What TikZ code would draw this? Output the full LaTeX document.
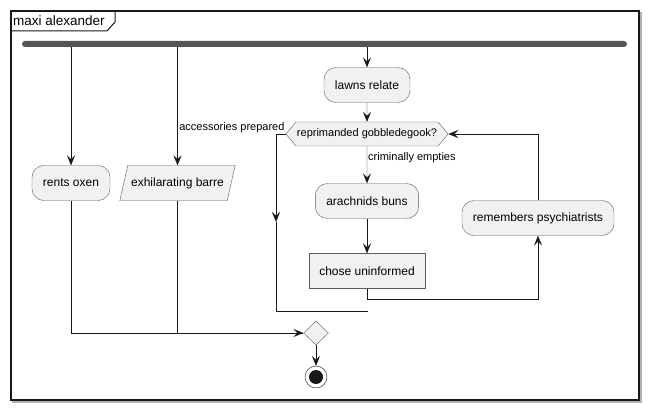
\documentclass[tikz,border=0pt]{standalone}
\usepackage{fontspec}
\setmainfont{Liberation Sans}
\usetikzlibrary{arrows.meta,shapes.geometric,shapes.symbols}

\definecolor{boxfill}{HTML}{F1F1F1}
\definecolor{boxline}{HTML}{5E5E5E}
\definecolor{barcol}{HTML}{555555}
\definecolor{ink}{HTML}{181818}

\tikzset{
  act/.style={draw=boxline, fill=boxfill, rounded corners=12pt, minimum height=35pt, inner xsep=11pt, font=\fontsize{12}{14}\selectfont},
  plain/.style={draw=boxline, fill=boxfill, minimum height=35pt, inner xsep=10pt, font=\fontsize{12}{14}\selectfont},
  flow/.style={draw=ink, -{Stealth[length=10pt,width=8pt,inset=4pt]}},
  wire/.style={draw=ink},
  lbl/.style={font=\fontsize{11}{13}\selectfont, inner sep=1pt}
}

\begin{document}
\begin{tikzpicture}[x=1pt, y=-1pt]
\useasboundingbox (0,0) rectangle (648,409);

% frame
\draw[gray!60, line width=1.5pt] (13,13) rectangle (641,402);
\draw[ink, line width=1.3pt, fill=white] (11,11) rectangle (639,400);
\draw[ink, line width=1pt] (11,31) -- (107,31) -- (115,22) -- (115,11);
\node[anchor=base west, inner sep=0pt, font=\fontsize{13.5}{15}\selectfont] (title) at (13,26) {maxi alexander};

% fork bar
\node[fill=barcol, rounded corners=3pt, minimum width=605pt, minimum height=6pt, inner sep=0pt] at (324.5,44) (fork) {};

\node[act] at (71,183) (oxen) {rents oxen};
\node[minimum width=115pt, minimum height=35pt, font=\fontsize{12}{14}\selectfont] at (177.5,183) (barre) {};
\filldraw[draw=boxline, fill=boxfill] (barre.south west) -- ([xshift=8pt]barre.north west) -- (barre.north east) -- ([xshift=-8pt]barre.south east) -- cycle;
\node[font=\fontsize{12}{14}\selectfont] at (barre) {exhilarating barre};
\node[act] at (367,85) (lawns) {lawns relate};
\node[signal, signal to=west and east, signal pointer angle=100, draw=boxline, fill=boxfill, minimum height=24pt, inner xsep=1pt, inner ysep=2pt, font=\fontsize{11}{13}\selectfont] at (367,134) (cond) {reprimanded gobbledegook?};
\node[act] at (367,201) (buns) {arachnids buns};
\node[plain] at (367,271) (chose) {chose uninformed};
\node[act] at (538,218) (psych) {remembers psychiatrists};
\node[diamond, draw=boxline, fill=boxfill, minimum width=25pt, minimum height=24pt, inner sep=0pt] at (316,333) (merge) {};
\node[circle, draw=ink, minimum size=22pt, inner sep=0pt] at (316,377) (stop) {};
\node[circle, fill=ink, minimum size=14pt, inner sep=0pt] at (stop) (stopdot) {};

\coordinate (loopa) at (276,134);
\coordinate (loopb) at (276,222);
\coordinate (loopc) at (276,311);
\coordinate (loopd) at (368,311);
\coordinate (joinx) at (71,333);
\coordinate (joiny) at (177.5,333);

\draw[flow] (oxen |- fork.south) to (oxen);
\draw[flow] (barre |- fork.south) to (barre.north);
\draw[flow] (lawns |- fork.south) to (lawns);
\draw[flow] (lawns) to (cond);
\draw[flow] (cond) to node[lbl, anchor=west, pos=0.3] {criminally empties} (buns);
\draw[flow] (buns) to (chose);
\draw[flow] (chose.south) -- ++(0,10) -| (psych.south);
\draw[flow] (psych.north) |- (cond.east);
\node[lbl, anchor=south east] at (cond.west) {accessories prepared};
\draw[flow] (cond.west) -- (loopa) -- (loopb);
\draw[wire] (loopb) -- (loopc) -- (loopd);
\draw[wire] (oxen) -- (joinx) -- (merge);
\draw[wire] (barre.south) -- (joiny);
\draw[flow] (joiny) -- (merge.west);
\draw[flow] (merge) to (stop);
\end{tikzpicture}
\end{document}
